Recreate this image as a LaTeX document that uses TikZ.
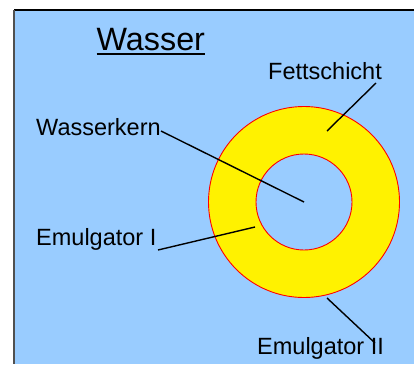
\documentclass[tikz,border=0pt]{standalone}
\usepackage{fontspec}
\setmainfont{Liberation Sans}
\definecolor{bgblue}{HTML}{99CCFF}
\definecolor{borderdark}{HTML}{505050}
\begin{document}
\begin{tikzpicture}[x=1pt,y=-1pt,
  lbl/.style={anchor=base west,inner sep=0pt,font=\fontsize{23.5}{26}\selectfont},
  ring/.style={circle,draw=red,line width=0.9pt,inner sep=0pt},
  leader/.style={draw=black,line width=1.4pt}]
\useasboundingbox (0,0) rectangle (414,364);
\fill[white] (0,0) rectangle (414,364);
\fill[bgblue] (14,10) rectangle (414,364);
\draw[black,line width=1.2pt] (14,10) -- (414,10);
\draw[borderdark,line width=1.6pt] (14,10) -- (14,364);
% ring
\node[ring,fill=yellow,minimum size=191pt] (outer) at (304,202) {};
\node[ring,fill=bgblue,minimum size=96pt] (inner) at (304,202) {};
% labels
\node[anchor=base west,inner sep=0pt,font=\fontsize{32.3}{35}\selectfont] (title) at (96.5,50) {Wasser};
\draw[black,line width=2pt] ([yshift=-4pt]title.base west) -- ([yshift=-4pt]title.base east);
\node[lbl] (fett) at (268,79) {Fettschicht};
\node[lbl] (kern) at (36,135) {Wasserkern};
\node[lbl] (em1) at (36,245) {Emulgator I};
\node[lbl] (em2) at (257,354) {Emulgator II};
% leader coordinates
\coordinate (fettA) at (376,83);
\coordinate (fettB) at (327,131);
\coordinate (kernA) at (161,131);
\coordinate (em1A) at (158,250);
\coordinate (em1B) at (255,227);
\coordinate (em2A) at (327,298);
\coordinate (em2B) at (375,343);
\draw[leader] (fettA) -- (fettB);
\draw[leader] (kernA) -- (inner.center);
\draw[leader] (em1A) -- (em1B);
\draw[leader] (em2A) -- (em2B);
\end{tikzpicture}
\end{document}
